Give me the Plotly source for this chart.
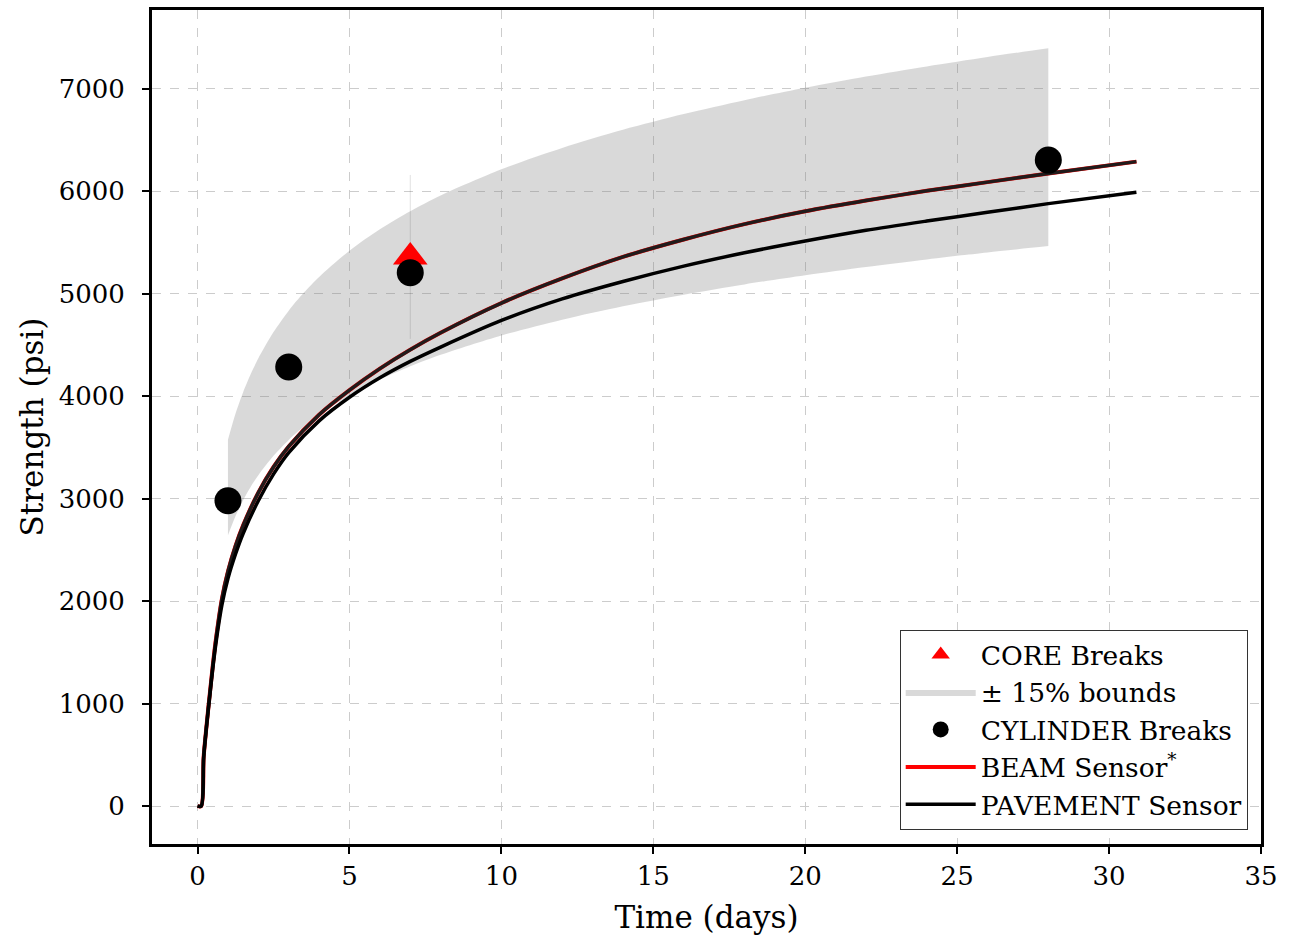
import plotly.graph_objects as go

# ---- data ----
sensor_t = [0, 0.12, 0.2, 0.3, 0.4, 0.5, 0.6, 0.8, 1.0, 1.25, 1.5, 2.0, 2.5, 3.0, 4.0, 5.0,
            6.0, 7.0, 8.0, 10, 12, 14, 16, 18, 20, 22, 24, 26, 28, 30.9]
beam_strength = [0, 0, 480, 800, 1090, 1370, 1620, 2020, 2290, 2540, 2740, 3060, 3310, 3510,
                 3820, 4060, 4270, 4455, 4620, 4910, 5150, 5360, 5530, 5680, 5805, 5910, 6005,
                 6090, 6175, 6290]
pavement_strength = [0, 0, 470, 790, 1070, 1340, 1580, 1960, 2220, 2460, 2660, 2980, 3240,
                     3450, 3760, 3990, 4180, 4340, 4480, 4740, 4950, 5120, 5270, 5400, 5515,
                     5620, 5710, 5795, 5880, 5992]

band_t = [1, 1.25, 1.5, 1.75, 2, 2.5, 3, 3.5, 4, 5, 6, 7, 8, 10, 12, 14, 16, 18, 20, 22, 24, 26, 28]
band_upper = [3575, 3831, 4040, 4217, 4370, 4626, 4835, 5012, 5165, 5421, 5630, 5806, 5960,
              6216, 6424, 6601, 6754, 6890, 7010, 7120, 7219, 7311, 7396]
band_lower = [2643, 2831, 2986, 3117, 3230, 3419, 3574, 3704, 3817, 4007, 4161, 4292, 4405,
              4594, 4748, 4879, 4992, 5092, 5182, 5262, 5336, 5404, 5466]

cylinder_t = [1, 3, 7, 28]
cylinder_strength = [2980, 4285, 5205, 6305]

core_t = [7]
core_strength = [5360]
core_err = [800]

x_ticks = [0, 5, 10, 15, 20, 25, 30, 35]
y_ticks = [0, 1000, 2000, 3000, 4000, 5000, 6000, 7000]

FONT = "DejaVu Serif"

fig = go.Figure()

# ±15% band (lower edge, then upper edge filled to it)
fig.add_trace(go.Scatter(
    x=band_t, y=band_lower, mode="lines", showlegend=False, hoverinfo="skip",
    line=dict(width=0, color="rgba(0,0,0,0)", shape="spline", smoothing=0.8)))
fig.add_trace(go.Scatter(
    x=band_t, y=band_upper, mode="lines", fill="tonexty",
    fillcolor="rgba(128,128,128,0.3)",
    line=dict(width=0, color="rgba(0,0,0,0)", shape="spline", smoothing=0.8),
    name="± 15% bounds", legendrank=2, hoverinfo="skip"))

# core breaks
fig.add_trace(go.Scatter(
    x=core_t, y=core_strength, mode="markers", name="CORE Breaks", legendrank=1,
    marker=dict(symbol="triangle-up", size=30, color="red"),
    error_y=dict(type="data", array=core_err, color="rgba(0,0,0,0.12)", thickness=1, width=0)))

# beam sensor (red) under the dark upper curve
fig.add_trace(go.Scatter(
    x=sensor_t, y=beam_strength, mode="lines", name="BEAM Sensor<sup>*</sup>", legendrank=4,
    line=dict(color="red", width=4, shape="spline", smoothing=0.8)))
fig.add_trace(go.Scatter(
    x=sensor_t, y=beam_strength, mode="lines", showlegend=False,
    line=dict(color="#211b1b", width=3.5, shape="spline", smoothing=0.8)))

# pavement sensor
fig.add_trace(go.Scatter(
    x=sensor_t, y=pavement_strength, mode="lines", name="PAVEMENT Sensor", legendrank=5,
    line=dict(color="black", width=3.5, shape="spline", smoothing=0.8)))

# cylinder breaks
fig.add_trace(go.Scatter(
    x=cylinder_t, y=cylinder_strength, mode="markers", name="CYLINDER Breaks", legendrank=3,
    marker=dict(symbol="circle", size=27, color="black")))

axis_common = dict(
    showline=True, linewidth=3, linecolor="black", mirror=True,
    ticks="outside", ticklen=7, tickwidth=1.5, tickcolor="black",
    showgrid=True, gridcolor="#cccccc", griddash="dash", gridwidth=1,
    zeroline=False, tickfont=dict(family=FONT, size=26, color="black"),
)

fig.update_xaxes(range=[-1.5, 35], tickvals=x_ticks,
                 title=dict(text="Time (days)", font=dict(family=FONT, size=31, color="black"),
                            standoff=17),
                 **axis_common)
fig.update_yaxes(range=[-370, 7770], tickvals=y_ticks, ticklabelstandoff=12,
                 title=dict(text="Strength (psi)", font=dict(family=FONT, size=31, color="black"),
                            standoff=6),
                 **axis_common)

fig.update_layout(
    width=1304, height=937,
    margin=dict(l=152, r=43, t=7, b=89),
    paper_bgcolor="white", plot_bgcolor="white",
    font=dict(family=FONT, color="black"),
    showlegend=True,
    legend=dict(x=0.988, y=0.017, xanchor="right", yanchor="bottom",
                traceorder="normal",
                bgcolor="white", bordercolor="#333333", borderwidth=1,
                font=dict(family=FONT, size=26.5, color="black"),
                itemwidth=70, tracegroupgap=0),
)

fig.write_html("out.html")
